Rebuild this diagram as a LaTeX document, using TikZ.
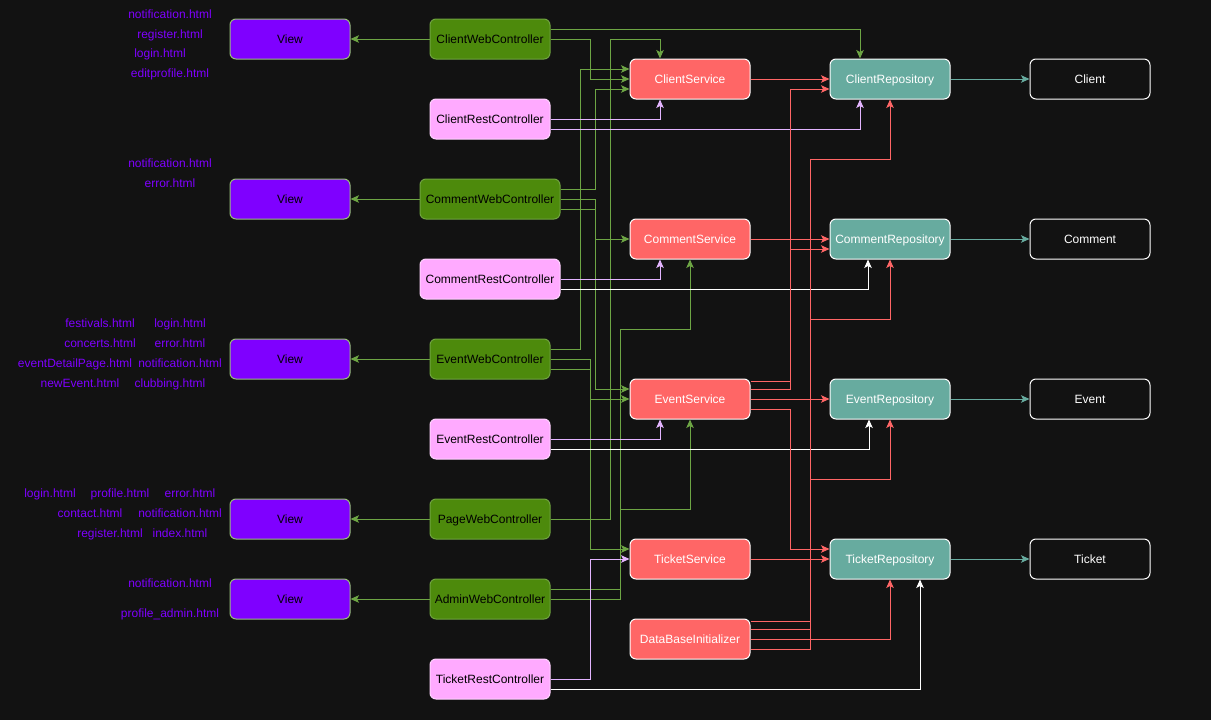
\documentclass[tikz,border=0pt]{standalone}
\usepackage{fontspec}
\setmainfont{Liberation Sans}
\usepackage{xcolor}
\usetikzlibrary{arrows.meta,calc}

\definecolor{bgdark}{HTML}{121212}
\definecolor{viewpurple}{HTML}{7F00FF}
\definecolor{webgreen}{HTML}{4D8A0C}
\definecolor{webborder}{HTML}{6FA33F}
\definecolor{restpink}{HTML}{FFAAFF}
\definecolor{svcred}{HTML}{FF6666}
\definecolor{repoteal}{HTML}{67AB9F}
\definecolor{edgegreen}{HTML}{6DA544}
\definecolor{edgepink}{HTML}{E3B4FF}

\begin{document}
\begin{tikzpicture}[x=1pt,y=-1pt,
    font=\fontsize{12}{14}\selectfont,
    box/.style={rounded corners=6pt,minimum width=120pt,minimum height=40pt,inner sep=0pt,line width=1pt,
        text height=9.6pt,text depth=1.4pt},
    viewbox/.style={box,fill=viewpurple,draw=edgegreen!70!white,text=black},
    webbox/.style={box,fill=webgreen,draw=webborder,text=black},
    restbox/.style={box,fill=restpink,draw=restpink!50!white,text=black},
    svcbox/.style={box,fill=svcred,draw=white,text=white},
    repobox/.style={box,fill=repoteal,draw=white,text=white},
    entbox/.style={box,fill=bgdark,draw=white,text=white},
    page/.style={text=viewpurple,inner sep=0pt,text height=9.6pt,text depth=1.4pt},
    arr/.style={line width=1pt,-{Stealth[length=8.5pt,width=7.5pt,inset=2pt]}},
    glink/.style={arr,draw=edgegreen},
    rlink/.style={arr,draw=svcred},
    plink/.style={arr,draw=edgepink},
    wlink/.style={arr,draw=white},
    tlink/.style={arr,draw=repoteal}]

    % --- background (fixes the page size too)
    \fill[bgdark] (0,0) rectangle (1211,720);

    % --- views
    \foreach \n/\y in {v1/39,v2/199,v3/359,v4/519,v5/599}{\node[viewbox] (\n) at (290,\y) {View};}

    % --- controllers
    \node[webbox] (cwc) at (490,39) {ClientWebController};
    \node[restbox] (crc) at (490,119) {ClientRestController};
    \node[webbox,minimum width=140pt] (mwc) at (490,199) {CommentWebController};
    \node[restbox,minimum width=140pt] (mrc) at (490,279) {CommentRestController};
    \node[webbox] (ewc) at (490,359) {EventWebController};
    \node[restbox] (erc) at (490,439) {EventRestController};
    \node[webbox] (pwc) at (490,519) {PageWebController};
    \node[webbox] (awc) at (490,599) {AdminWebController};
    \node[restbox] (trc) at (490,679) {TicketRestController};

    % --- services
    \node[svcbox] (csv) at (690,79) {ClientService};
    \node[svcbox] (msv) at (690,239) {CommentService};
    \node[svcbox] (esv) at (690,399) {EventService};
    \node[svcbox] (tsv) at (690,559) {TicketService};
    \node[svcbox] (dbi) at (690,639) {DataBaseInitializer};

    % --- repositories and entities
    \foreach \n/\y/\t in {crp/79/Client,mrp/239/Comment,erp/399/Event,trp/559/Ticket}{\node[repobox] (\n) at (890,\y) {\t Repository};}
    \foreach \n/\y/\t in {client/79/Client,comment/239/Comment,event/399/Event,ticket/559/Ticket}{\node[entbox] (\n) at (1090,\y) {\t};}

    % --- templates beside the views
    \foreach \x/\y/\t [count=\i] in {170/14/notification.html,170/34/register.html,160/53/login.html,170/73/editprofile.html,
        170/163/notification.html,170/183/error.html,
        100/323/festivals.html,180/323/login.html,100/343/concerts.html,180/343/error.html,
        75/363/eventDetailPage.html,180/363/notification.html,80/383/newEvent.html,170/383/clubbing.html,
        50/493/login.html,120/493/profile.html,190/493/error.html,90/513/contact.html,180/513/notification.html,
        110/533/register.html,180/533/index.html,
        170/583/notification.html,170/613/{profile\_admin.html}}{\node[page] (page\i) at (\x,\y) {\t};}

    % --- controller -> view
    \foreach \c/\v in {cwc/v1,mwc/v2,ewc/v3,pwc/v4,awc/v5}{\draw[glink] (\c) -- (\v);}

    % --- web controllers -> services / repository
    \draw[glink] ([yshift=10pt]cwc.east) -| ([xshift=-30pt]crp.north);
    \draw[glink] (cwc.east) -- ++(40,0) |- (csv.west);
    \draw[glink] ([yshift=10pt]mwc.east) -- ++(35,0) |- ([yshift=-10pt]csv.west);
    \draw[glink] (mwc.east) -- ++(35,0) |- (msv.west);
    \draw[glink] ([yshift=-10pt]mwc.east) -- ++(35,0) |- ([yshift=10pt]esv.west);
    \draw[glink] ([yshift=10pt]ewc.east) -- ++(30,0) |- ([yshift=10pt]csv.west);
    \draw[glink] (ewc.east) -- ++(40,0) |- (esv.west);
    \draw[glink] ([yshift=-10pt]ewc.east) -- ++(40,0) |- ([yshift=10pt]tsv.west);
    \draw[glink] (pwc.east) -- ++(60,0) -- ++(0,-480) -| ([xshift=-30pt]csv.north);
    \draw[glink] ([yshift=10pt]awc.east) -- ++(70,0) -- ++(0,-260) -| (msv.south);
    \draw[glink] (awc.east) -- ++(70,0) -- ++(0,-90) -| (esv.south);

    % --- rest controllers -> services / repositories
    \foreach \c/\s in {crc/csv,mrc/msv,erc/esv}{\draw[plink] (\c.east) -| ([xshift=-30pt]\s.south);}
    \draw[plink] ([yshift=-10pt]crc.east) -| ([xshift=-30pt]crp.south);
    \draw[wlink] ([yshift=-10pt]mrc.east) -| ([xshift=-22pt]mrp.south);
    \draw[wlink] ([yshift=-10pt]erc.east) -| ([xshift=-21pt]erp.south);
    \draw[plink] (trc.east) -- ++(40,0) |- (tsv.west);
    \draw[wlink] ([yshift=-10pt]trc.east) -| ([xshift=30pt]trp.south);

    % --- services -> repositories
    \foreach \s/\r in {csv/crp,msv/mrp,esv/erp,tsv/trp}{\draw[rlink] (\s) -- (\r);}
    \draw[rlink] ([yshift=18pt]esv.east) -- ++(40,0) |- ([yshift=-10pt]crp.west);
    \draw[rlink] ([yshift=10pt]esv.east) -- ++(40,0) |- ([yshift=-10pt]mrp.west);
    \draw[rlink] ([yshift=-10pt]esv.east) -- ++(40,0) |- ([yshift=10pt]trp.west);

    % --- initializer fills every repository
    \draw[rlink] ([yshift=18pt]dbi.east) -- ++(60,0) -- ++(0,-462) -| (crp.south);
    \draw[rlink] ([yshift=10pt]dbi.east) -- ++(60,0) -- ++(0,-310) -| (mrp.south);
    \draw[rlink] ([yshift=-10pt]dbi.east) -- ++(60,0) -- ++(0,-170) -| (erp.south);
    \draw[rlink] (dbi.east) -| (trp.south);

    % --- repository -> entity
    \foreach \r/\e in {crp/client,mrp/comment,erp/event,trp/ticket}{\draw[tlink] (\r) -- (\e);}
\end{tikzpicture}
\end{document}
